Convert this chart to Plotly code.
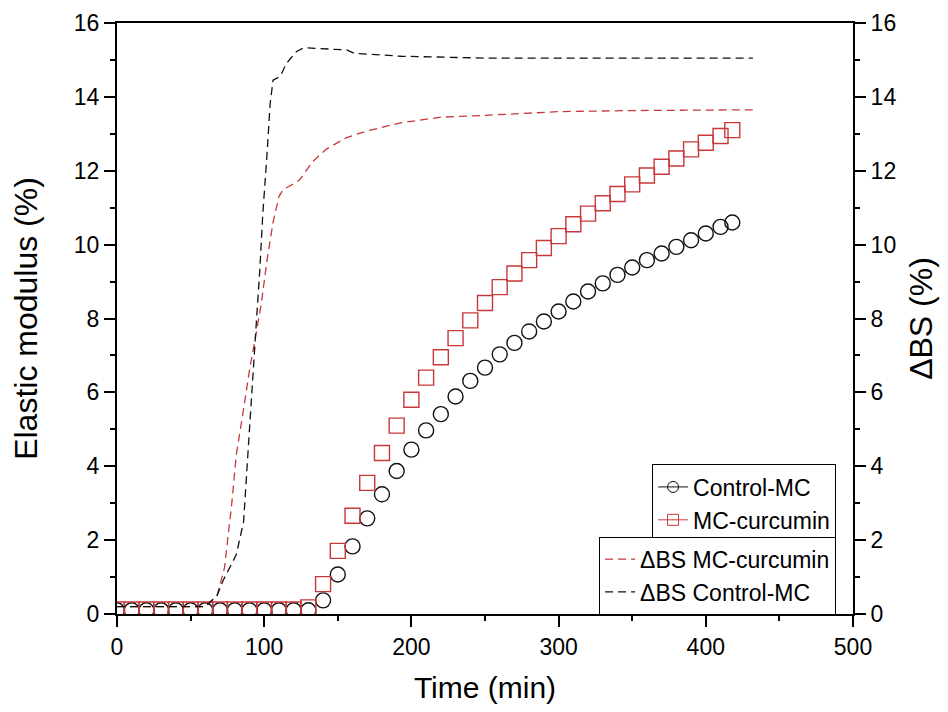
import plotly.graph_objects as go

# Elastic modulus data (left axis)
t_base = [0, 10, 20, 30, 40, 50, 60, 70, 80, 90, 100, 110, 120, 130]
t_rise = [140, 150, 160, 170, 180, 190, 200, 210, 220, 230, 240, 250, 260, 270,
          280, 290, 300, 310, 320, 330, 340, 350, 360, 370, 380, 390, 400, 410, 418]
control_base = [0.1] * 14
control_rise = [0.37, 1.07, 1.83, 2.59, 3.24, 3.87, 4.45, 4.97, 5.41, 5.89, 6.31, 6.67,
                7.03, 7.34, 7.65, 7.92, 8.19, 8.46, 8.73, 8.95, 9.18, 9.38, 9.58, 9.76,
                9.94, 10.12, 10.30, 10.48, 10.6]
curcumin_base = [0.12] * 13 + [0.18]
curcumin_rise = [0.81, 1.71, 2.66, 3.55, 4.36, 5.10, 5.80, 6.40, 6.95, 7.47, 7.95, 8.42,
                 8.85, 9.22, 9.58, 9.91, 10.23, 10.55, 10.84, 11.12, 11.37, 11.63, 11.87,
                 12.11, 12.33, 12.58, 12.76, 12.94, 13.1]

# Delta BS data (right axis)
bs_red_t = [0, 30, 60, 68, 73, 78, 81, 86, 90, 95, 98, 102, 106, 110, 113, 118, 124, 133,
            142, 156, 170, 193, 220, 250, 300, 350, 432]
bs_red_v = [0.2, 0.2, 0.2, 0.5, 1.25, 3.0, 4.3, 5.55, 6.6, 7.7, 8.4, 9.6, 10.6, 11.3, 11.5,
            11.6, 11.75, 12.25, 12.58, 12.9, 13.08, 13.3, 13.45, 13.5, 13.6, 13.63, 13.65]
bs_black_t = [0, 30, 60, 68, 72, 81, 86, 90, 92.4, 95, 97, 99, 102, 104, 106, 111, 115, 122,
              127, 156, 161, 193, 250, 432]
bs_black_v = [0.2, 0.2, 0.2, 0.5, 0.9, 1.6, 2.5, 5.0, 6.6, 8.1, 9.3, 10.8, 12.5, 13.8, 14.45,
              14.56, 14.9, 15.23, 15.33, 15.27, 15.18, 15.1, 15.05, 15.05]

RED = "#c8383a"
BLACK = "#111111"
FONT = "Liberation Sans"

fig = go.Figure()

# Delta BS dashed lines
fig.add_trace(go.Scatter(x=bs_red_t, y=bs_red_v, mode="lines", yaxis="y2",
                         line=dict(color=RED, width=1.3, dash="8px,5px"),
                         name="ΔBS MC-curcumin", legend="legend2"))
fig.add_trace(go.Scatter(x=bs_black_t, y=bs_black_v, mode="lines", yaxis="y2",
                         line=dict(color=BLACK, width=1.3, dash="8px,5px"),
                         name="ΔBS Control-MC", legend="legend2"))

# Markers
fig.add_trace(go.Scatter(x=t_base + t_rise, y=control_base + control_rise, mode="markers",
                         marker=dict(symbol="circle-open", size=15, color=BLACK,
                                     line=dict(width=1.4, color=BLACK)),
                         showlegend=False))
fig.add_trace(go.Scatter(x=t_base + t_rise, y=curcumin_base + curcumin_rise, mode="markers",
                         marker=dict(symbol="square-open", size=15, color=RED,
                                     line=dict(width=1.4, color=RED)),
                         showlegend=False))

# Legend entries (line + marker symbol)
fig.add_trace(go.Scatter(x=[None], y=[None], mode="lines+markers", name="Control-MC",
                         line=dict(color=BLACK, width=1),
                         marker=dict(symbol="circle-open", size=11, color=BLACK),
                         legend="legend"))
fig.add_trace(go.Scatter(x=[None], y=[None], mode="lines+markers", name="MC-curcumin",
                         line=dict(color=RED, width=1),
                         marker=dict(symbol="square-open", size=11, color=RED),
                         legend="legend"))

axis_common = dict(showline=True, linecolor="black", linewidth=2, ticks="outside",
                   ticklen=11, tickwidth=2, tickcolor="black", showgrid=False, zeroline=False,
                   automargin=False, ticklabeloverflow="allow",
                   tickfont=dict(family=FONT, size=23, color="black"))
minor = dict(ticks="outside", ticklen=5, tickwidth=2, tickcolor="black")

fig.update_layout(
    width=940, height=704,
    margin=dict(l=109, r=95, t=15, b=98),
    paper_bgcolor="white", plot_bgcolor="white",
    font=dict(family=FONT, color="black"),
    xaxis=dict(range=[0, 500], dtick=100, mirror=True,
               minor=dict(dtick=50, **minor),
               title=dict(text="Time (min)", font=dict(family=FONT, size=30), standoff=18),
               **axis_common),
    yaxis=dict(range=[0, 16], dtick=2,
               minor=dict(dtick=1, **minor),
               title=dict(text="Elastic modulus (%)", font=dict(family=FONT, size=32), standoff=30),
               **axis_common),
    yaxis2=dict(range=[0, 16], dtick=2, overlaying="y", side="right",
                minor=dict(dtick=1, **minor),
                title=dict(text="ΔBS (%)", font=dict(family=FONT, size=32), standoff=14),
                **axis_common),
    legend=dict(x=0.977, y=0.253, xanchor="right", yanchor="top",
                bordercolor="black", borderwidth=1, bgcolor="white",
                font=dict(family=FONT, size=23), tracegroupgap=0,
                itemsizing="trace"),
    legend2=dict(x=0.977, y=0.131, xanchor="right", yanchor="top",
                 bordercolor="black", borderwidth=1, bgcolor="white",
                 font=dict(family=FONT, size=23), tracegroupgap=0),
)

fig.write_html("out.html")
